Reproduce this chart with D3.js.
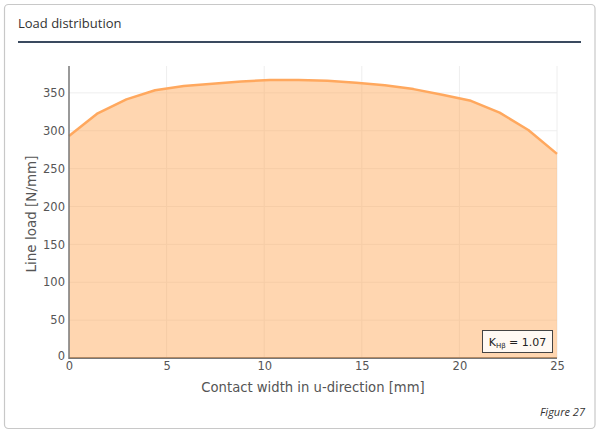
<!DOCTYPE html>
<html>
<head>
<meta charset="utf-8">
<script src="https://cdn.jsdelivr.net/npm/d3@7"></script>
<style>
  html, body { margin: 0; padding: 0; background: #fff; }
  svg { display: block; }
</style>
</head>
<body>
<svg id="chart" width="600" height="436"></svg>
<script>
// ---- data ----
const positions = [0, 1.47, 2.94, 4.41, 5.88, 7.35, 8.82, 10.29, 11.76, 13.24, 14.71, 16.18, 17.65, 19.12, 20.59, 22.06, 23.53, 25];
const lineLoad = [293, 323, 341.5, 353.5, 359, 362, 365, 367, 367, 366, 363.5, 360, 355, 347.5, 339.5, 324, 301, 269.5];
const xTicks = [0, 5, 10, 15, 20, 25];
const yTicks = [0, 50, 100, 150, 200, 250, 300, 350];
const titleText = "Load distribution";
const xTitle = "Contact width in u-direction [mm]";
const yTitle = "Line load [N/mm]";
const factorName = "K";
const factorSub = "Hβ";
const factorValue = "1.07";
const figureLabel = "Figure 27";

const svg = d3.select("#chart");

// card
svg.append("rect").attr("x", 4.5).attr("y", 4.5).attr("width", 590.5).attr("height", 424)
  .attr("rx", 4).attr("fill", "#fff").attr("stroke", "#c8c8c8").attr("stroke-width", 1.2);

svg.append("text").attr("x", 18).attr("y", 28).text(titleText)
  .attr("font-family", "'Open Sans', sans-serif").attr("font-size", 13).attr("fill", "#333");
svg.append("line").attr("x1", 18).attr("x2", 581).attr("y1", 42).attr("y2", 42)
  .attr("stroke", "#3a4a5f").attr("stroke-width", 2);

const x = d3.scaleLinear().domain([0, 25]).range([69, 557]);
const y = d3.scaleLinear().domain([0, 385.5]).range([358, 66]);

const font = "'DejaVu Sans', Verdana, sans-serif";

// grid
const g = svg.append("g");
g.selectAll(".gx").data(xTicks.filter(d => d > 0)).enter().append("line")
  .attr("x1", d => x(d)).attr("x2", d => x(d)).attr("y1", y(0)).attr("y2", 66)
  .attr("stroke", "#eeeeee").attr("stroke-width", 1);
g.selectAll(".gy").data(yTicks.filter(d => d > 0)).enter().append("line")
  .attr("x1", x(0)).attr("x2", x(25)).attr("y1", d => y(d)).attr("y2", d => y(d))
  .attr("stroke", "#eeeeee").attr("stroke-width", 1);

// axes lines
svg.append("line").attr("x1", x(0)).attr("x2", x(25)).attr("y1", y(0)).attr("y2", y(0))
  .attr("stroke", "#777").attr("stroke-width", 2);

// area + line
const pts = positions.map((p, i) => [p, lineLoad[i]]);
svg.append("path").datum(pts)
  .attr("d", d3.area().x(d => x(d[0])).y0(y(0)).y1(d => y(d[1])))
  .attr("fill", "rgb(255,165,80)").attr("fill-opacity", 0.45);
svg.append("path").datum(pts)
  .attr("d", d3.line().x(d => x(d[0])).y(d => y(d[1])))
  .attr("fill", "none").attr("stroke", "#ffa85e").attr("stroke-width", 2.5).attr("stroke-linejoin", "round");

svg.append("line").attr("x1", x(0)).attr("x2", x(0)).attr("y1", 66).attr("y2", y(0) + 1)
  .attr("stroke", "#777").attr("stroke-width", 1.5);

// tick labels via axes
const xAxis = svg.append("g").attr("transform", `translate(0,${y(0)})`)
  .call(d3.axisBottom(x).tickValues(xTicks).tickSize(0).tickPadding(4));
const yAxis = svg.append("g").attr("transform", `translate(${x(0)},0)`)
  .call(d3.axisLeft(y).tickValues(yTicks).tickSize(0).tickPadding(4));
[xAxis, yAxis].forEach(a => {
  a.select(".domain").remove();
  a.selectAll("text").attr("font-family", font).attr("font-size", 11.5).attr("fill", "#555");
});
yAxis.selectAll(".tick").filter(d => d === 0).select("text").attr("dy", "0.1em");

// axis titles
svg.append("text").attr("x", 313).attr("y", 392).attr("text-anchor", "middle")
  .attr("font-family", font).attr("font-size", 13.2).attr("fill", "#555").text(xTitle);
svg.append("text").attr("transform", "translate(36,214) rotate(-90)").attr("text-anchor", "middle")
  .attr("font-family", font).attr("font-size", 13.5).attr("fill", "#555").text(yTitle);

// annotation
svg.append("rect").attr("x", 482.5).attr("y", 330.5).attr("width", 70).attr("height", 22)
  .attr("fill", "#fff").attr("fill-opacity", 0.85).attr("stroke", "#444").attr("stroke-width", 1);
const ann = svg.append("text").attr("x", 517.5).attr("y", 346).attr("text-anchor", "middle")
  .attr("font-family", font).attr("font-size", 11).attr("fill", "#222");
ann.append("tspan").text(factorName);
ann.append("tspan").attr("font-size", 7).attr("dy", 2).text(factorSub);
ann.append("tspan").attr("dy", -2).text(" = " + factorValue);

svg.append("text").attr("x", 585).attr("y", 416).attr("text-anchor", "end")
  .attr("font-family", "'Open Sans', sans-serif").attr("font-style", "italic").attr("font-size", 11)
  .attr("fill", "#333").text(figureLabel);
</script>
</body>
</html>
